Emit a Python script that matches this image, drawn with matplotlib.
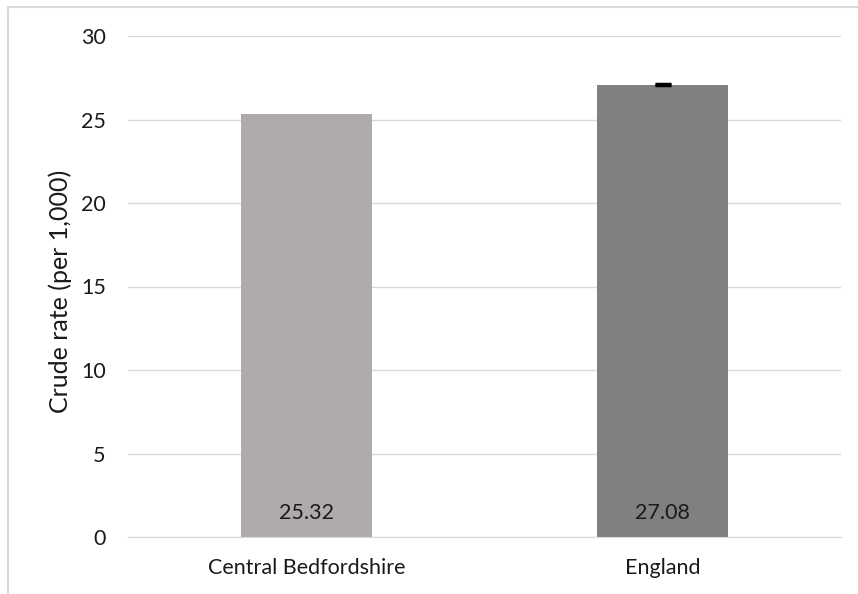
import matplotlib
matplotlib.use("Agg")
import matplotlib.pyplot as plt
from matplotlib.lines import Line2D

categories = ["Central Bedfordshire", "England"]
values = [25.32, 27.08]
err_low = [0.0, 0.04]
err_high = [0.0, 0.04]
show_err = [False, True]
colors = ["#AFABAB", "#808080"]
yticks = [0, 5, 10, 15, 20, 25, 30]
ylabel = "Crude rate (per 1,000)"

plt.rcParams['font.family'] = ['Lato', 'DejaVu Sans']

W, H = 858, 594
fig = plt.figure(figsize=(W / 100, H / 100), dpi=100)
ax = fig.add_axes([128 / W, (H - 537) / H, (841 - 128) / W, (537 - 36) / H])

x = list(range(len(categories)))
ax.bar(x, values, width=0.367, color=colors, zorder=2)
for xi, v, lo, hi, s in zip(x, values, err_low, err_high, show_err):
    if s:
        ax.errorbar([xi], [v], yerr=[[lo], [hi]], fmt='none', ecolor='black',
                    elinewidth=1, capsize=6, capthick=2.5, zorder=3)
    ax.annotate(f"{v:.2f}", xy=(xi, 0), xytext=(0, 17.5), textcoords='offset points',
                ha='center', va='center', fontsize=15.5, color='#1a1a1a', zorder=4)

ax.set_xlim(-0.5, len(categories) - 0.5)
ax.set_ylim(0, 30)
ax.set_yticks(yticks)
ax.set_xticks(x)
ax.set_xticklabels(categories)
ax.grid(axis='y', color='#D9D9D9', linewidth=1, zorder=0)
for sp in ['top', 'right', 'left']:
    ax.spines[sp].set_visible(False)
ax.spines['bottom'].set_color('#D9D9D9')
ax.tick_params(axis='both', length=0, labelsize=15.5, colors='#1a1a1a')
ax.tick_params(axis='y', pad=16)
ax.tick_params(axis='x', pad=15)
ax.set_ylabel(ylabel, fontsize=18, color='#1a1a1a')
ax.yaxis.label.set_va('center')
ax.yaxis.set_label_coords((60 - 128) / (841 - 128), 0.49)

# outer border (left and top)
fig.add_artist(Line2D([7.5 / W, 7.5 / W], [0, (H - 7) / H], transform=fig.transFigure,
                      color='#D9D9D9', linewidth=1.5))
fig.add_artist(Line2D([7.5 / W, 1], [(H - 7) / H, (H - 7) / H], transform=fig.transFigure,
                      color='#D9D9D9', linewidth=1.5))

fig.savefig("out.png", dpi=100)
